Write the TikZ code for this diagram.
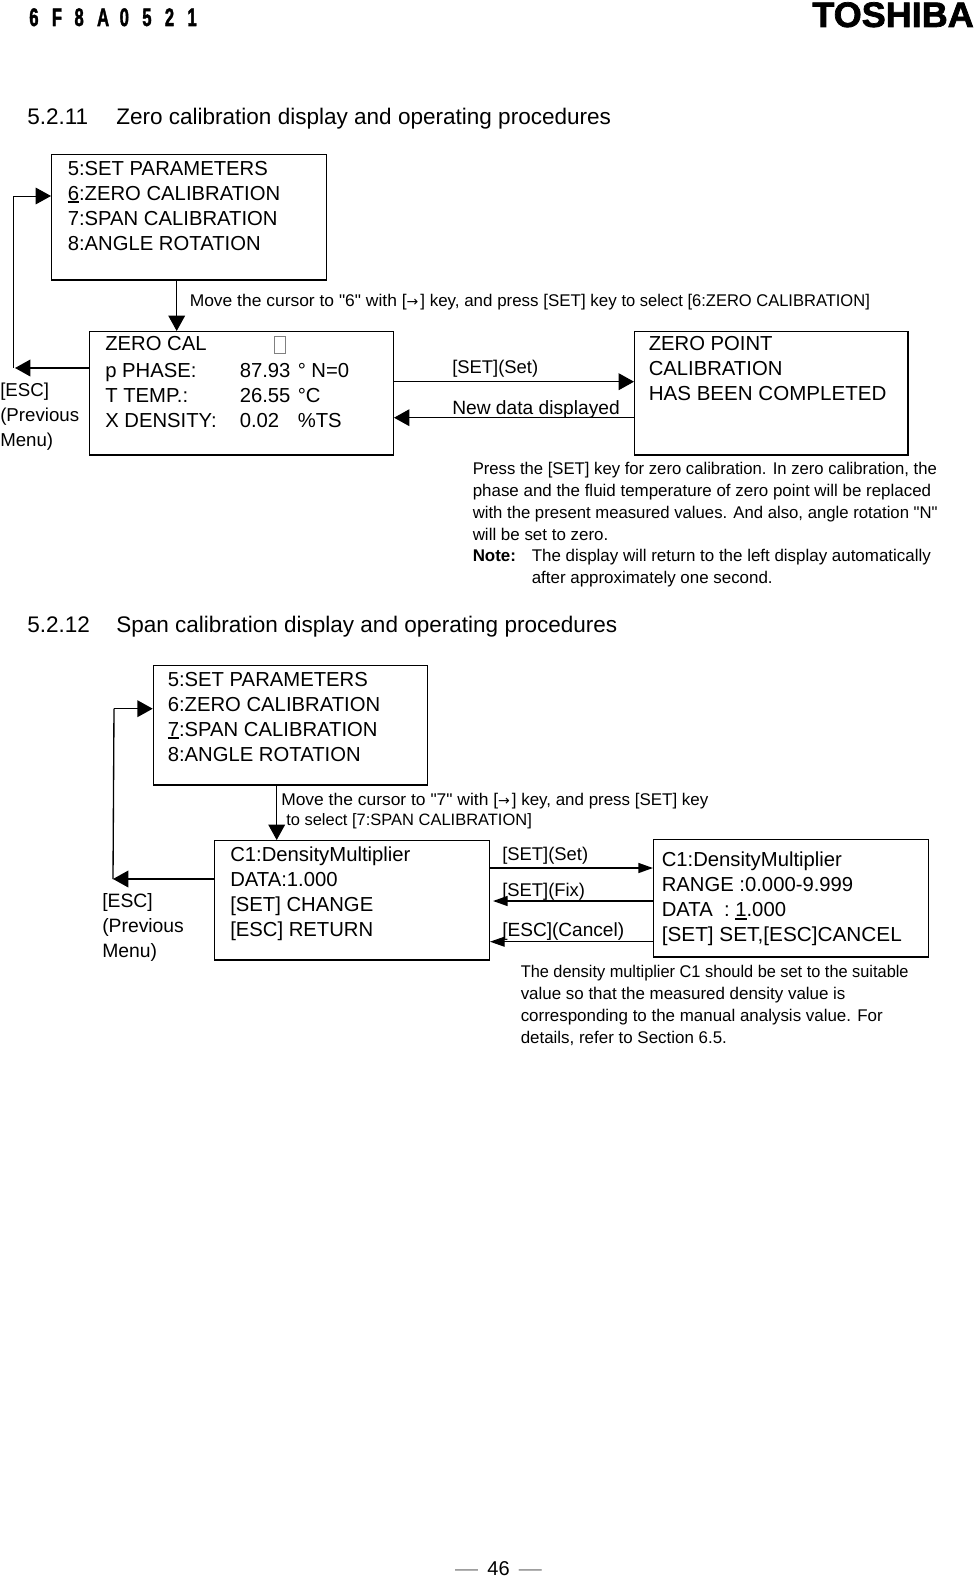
\documentclass[tikz,border=0pt]{standalone}
\usepackage{fontspec}
\setmainfont{Liberation Sans}
\newfontfamily\logofont{Liberation Sans}[BoldFeatures={FakeBold=2}]
\newfontfamily\arrowfont{DejaVu Sans}
\usetikzlibrary{arrows.meta}

\newcommand{\rightkey}{{\arrowfont\fontsize{10.5pt}{10pt}\selectfont →}\hspace{1.5pt}}
\newcommand{\quo}{{\logofont\symbol{34}}}
\newcommand{\cursorkey}[1]{\leavevmode\setbox0=\hbox{#1}\rlap{\rule[-2.3pt]{\wd0}{1.4pt}}\box0}

\tikzset{
	dispbox/.style={draw, line width=1pt, anchor=north west, inner sep=0pt},
	disptext/.style={anchor=base west, inner sep=0pt, align=left, font=\fontsize{15.2pt}{18.75pt}\selectfont},
	keytext/.style={anchor=base west, inner sep=0pt, align=left, font=\fontsize{13.8pt}{18.75pt}\selectfont},
	notetext/.style={anchor=base west, inner sep=0pt, align=left, font=\fontsize{12.7pt}{16.4pt}\selectfont},
	headtext/.style={anchor=base west, inner sep=0pt, font=\fontsize{16.9pt}{20pt}\selectfont},
	thinline/.style={line width=0.75pt},
	bigtip/.style={line width=1.1pt, -{Triangle[length=11.5pt,width=12.5pt]}},
	thintip/.style={line width=0.75pt, -{Triangle[length=11.5pt,width=12.5pt]}},
	lowtip/.style={line width=1.1pt, -{Triangle[length=11pt,width=7.5pt]}},
}

\begin{document}
\begin{tikzpicture}[x=0.75pt, y=-0.75pt]
	\useasboundingbox (0,0) rectangle (974,1577);
	% page head
	\foreach \c [count=\i from 0] in {6,F,8,A,0,5,2,1}
		\node[anchor=base west, inner sep=0pt, font=\fontsize{19pt}{20pt}\selectfont\logofont\bfseries] (head\i) at (29+22.6*\i,26) {\scalebox{0.66}[1]{\c}};
	\node[anchor=north east, inner sep=0pt] (logo) at (974,2) {\resizebox{121pt}{18.5pt}{\logofont\bfseries TOSHIBA}};
	% 5.2.11
	\node[headtext] (numa) at (27,124) {5.2.11};
	\node[headtext] (titlea) at (116,124) {Zero calibration display and operating procedures};
	\node[dispbox, minimum width=206pt, minimum height=94pt] (menua) at (51,154) {};
	\node[disptext] (menuatext) at (67.5,250) {5:SET PARAMETERS\\\cursorkey{6}:ZERO CALIBRATION\\7:SPAN CALIBRATION\\8:ANGLE ROTATION};
	\node[dispbox, minimum width=228pt, minimum height=92.5pt] (zero) at (88.7,331) {};
	\node[disptext] (zerohead) at (105,350) {ZERO CAL};
	\node[draw=gray, line width=0.7pt, anchor=north west, inner sep=0pt, minimum width=8.5pt, minimum height=12.5pt] (zerobox) at (274,336) {};
	\node[disptext] (zeroname) at (105,427) {p PHASE:\\T TEMP.:\\X DENSITY:};
	\node[disptext] (zeroval) at (239.5,427) {87.93\\26.55\\0.02};
	\node[disptext] (zerounit) at (297.5,427) {° N=0\\°C\\\%TS};
	\node[dispbox, minimum width=205pt, minimum height=92.5pt] (done) at (634,331) {};
	\node[disptext] (donetext) at (648.5,400) {ZERO POINT\\CALIBRATION\\\scalebox{1.015}[1]{HAS BEEN COMPLETED}};
	\node[keytext, font=\fontsize{14pt}{18.75pt}\selectfont] (escatext) at (0,446.7) {[ESC]\\(Previous\\Menu)};
	\node[notetext] (movea) at (189.5,306.5) {\scalebox{1.03}[1]{Move the cursor to \quo6\quo{} with [}\rightkey] key, and press [SET] key \scalebox{0.975}[1]{to select [6:ZERO CALIBRATION]}};
	\node[keytext] (seta) at (452,373) {[SET](Set)};
	\node[keytext, font=\fontsize{14.4pt}{18.75pt}\selectfont] (newa) at (452,414) {New data displayed};
	\node[notetext] (notea) at (472.5,540) {\scalebox{0.985}[1]{Press the [SET] key for zero calibration. In zero calibration, the}\\phase and the fluid temperature of zero point will be replaced\\\scalebox{0.987}[1]{with the present measured values. And also, angle rotation \quo N\quo}\\will be set to zero.};
	\node[notetext, font=\fontsize{12.7pt}{16.4pt}\selectfont\bfseries] (noteb) at (472.5,561.5) {Note:};
	\node[notetext] (notec) at (531.5,583.4) {The display will return to the left display automatically\\after approximately one second.};
	\coordinate (downa) at (176.7,0);
	\coordinate (esca) at (15,368);
	\coordinate (escb) at (13,368);
	\coordinate (escc) at (13,196);
	\coordinate (seta1) at (0,381.7);
	\coordinate (newa1) at (0,417.7);
	\draw[thintip] (menua.south -| downa) -- (zero.north -| downa);
	\draw[bigtip] (zero.west |- esca) -- (esca);
	\draw[thinline] (escb) -- (escc);
	\draw[thintip] (escc) -- (menua.west |- escc);
	\draw[bigtip] (zero.east |- seta1) -- (done.west |- seta1);
	\draw[bigtip] (done.west |- newa1) -- (zero.east |- newa1);
	% 5.2.12
	\node[headtext] (numb) at (27,632) {5.2.12};
	\node[headtext] (titleb) at (116,632) {Span calibration display and operating procedures};
	\node[dispbox, minimum width=205.5pt, minimum height=89.5pt] (menub) at (152.7,665) {};
	\node[disptext] (menubtext) at (167.5,761) {5:SET PARAMETERS\\6:ZERO CALIBRATION\\\cursorkey{7}:SPAN CALIBRATION\\8:ANGLE ROTATION};
	\node[dispbox, minimum width=206.5pt, minimum height=89.5pt] (cdata) at (213.7,840) {};
	\node[disptext] (cdatatext) at (230,936) {C1:DensityMultiplier\\DATA:1.000\\{[SET]} CHANGE\\{[ESC]} RETURN};
	\node[dispbox, minimum width=206pt, minimum height=88pt] (crange) at (653,839) {};
	\node[disptext] (crangetext) at (661.5,941.5) {C1:DensityMultiplier\\RANGE :0.000-9.999\\DATA\ \ : \cursorkey{1}.000\\\scalebox{1.025}[1]{[SET] SET,[ESC]CANCEL}};
	\node[keytext, font=\fontsize{14.5pt}{18.75pt}\selectfont] (escbtext) at (102,957) {[ESC]\\(Previous\\Menu)};
	\node[notetext] (moveb) at (281,805) {\scalebox{1.03}[1]{Move the cursor to \quo7\quo{} with [}\rightkey] key, and press [SET] key};
	\node[notetext, font=\fontsize{12.35pt}{16.4pt}\selectfont] (movec) at (286,825) {to select [7:SPAN CALIBRATION]};
	\node[keytext] (setb) at (502,860.5) {[SET](Set)};
	\node[keytext] (fixb) at (502,896) {[SET](Fix)};
	\node[keytext, font=\fontsize{14.3pt}{18.75pt}\selectfont] (cancelb) at (502,936.5) {[ESC](Cancel)};
	\node[notetext] (noted) at (520.5,1043.3) {\scalebox{0.965}[1]{The density multiplier C1 should be set to the suitable}\\value so that the measured density value is\\corresponding to the manual analysis value. For\\details, refer to Section 6.5.};
	\coordinate (downb) at (276.7,0);
	\coordinate (escd) at (113,879);
	\coordinate (esce) at (114,708.7);
	\coordinate (setb1) at (0,868);
	\coordinate (fixb1) at (493,901);
	\coordinate (cancelb1) at (490,941.7);
	\draw[thintip] (menub.south -| downb) -- (cdata.north -| downb);
	\draw[bigtip] (cdata.west |- escd) -- (escd);
	\draw[line width=1pt] (escd) -- (esce);
	\draw[bigtip] (esce) -- (menub.west |- esce);
	\draw[lowtip] (cdata.east |- setb1) -- (crange.west |- setb1);
	\draw[lowtip] (crange.west |- fixb1) -- (fixb1);
	\draw[thinline, -{Triangle[length=11pt,width=7.5pt]}] (crange.west |- cancelb1) -- (cancelb1);
	% page number
	\node[anchor=base, inner sep=0pt, font=\fontsize{15pt}{18pt}\selectfont] (pageno) at (498.5,1575) {{\color{gray}\scalebox{1.15}[1]{—}}\hspace{7pt}46\hspace{7pt}{\color{gray}\scalebox{1.15}[1]{—}}};
\end{tikzpicture}
\end{document}
